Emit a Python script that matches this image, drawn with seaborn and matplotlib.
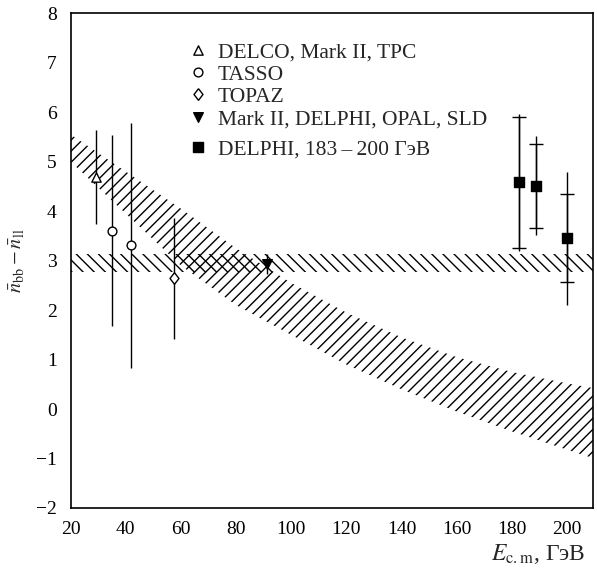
import numpy as np
import pandas as pd
import matplotlib
matplotlib.use("Agg")
import matplotlib.pyplot as plt
import seaborn as sns

# ---------------- data ----------------
band_x = [20, 40, 60, 80, 100, 120, 140, 160, 180, 200, 210]
band_upper = [5.55, 4.8, 4.05, 3.25, 2.55, 1.95, 1.45, 1.05, 0.75, 0.52, 0.42]
band_lower = [5.0, 3.95, 2.9, 2.1, 1.5, 0.9, 0.4, -0.05, -0.45, -0.82, -1.0]

flat_x = [20, 210]
flat_upper = [3.14, 3.14]
flat_lower = [2.78, 2.78]

delco_x = [29.2]
delco_y = [4.7]
delco_err = [0.95]

tasso_x = [34.9, 42.0]
tasso_y = [3.6, 3.31]
tasso_err = [1.93, 2.48]

topaz_x = [57.6]
topaz_y = [2.64]
topaz_err = [1.22]

z_x = [91.3]
z_y = [2.93]
z_err = [0.2]

delphi_x = [182.8, 188.9, 200.0]
delphi_y = [4.58, 4.51, 3.45]
delphi_stat = [1.33, 0.85, 0.89]
delphi_tot = [1.38, 1.0, 1.35]

labels = ["DELCO, Mark II, TPC", "TASSO", "TOPAZ",
          "Mark II, DELPHI, OPAL, SLD", "DELPHI, 183\u2009\u2013\u2009200 ГэВ"]

xticks = list(range(20, 201, 20))
yticks = list(range(-2, 9))

# ---------------- style ----------------
sns.set_theme(style="white")
plt.rcParams["font.family"] = ["Liberation Serif", "DejaVu Serif"]
plt.rcParams["mathtext.fontset"] = "stix"
plt.rcParams["hatch.linewidth"] = 1.0
plt.rcParams["axes.unicode_minus"] = True

fig = plt.figure(figsize=(5.97, 5.74), dpi=100)
ax = fig.add_axes([70.7 / 597, 1 - 508 / 574, (593.3 - 70.7) / 597, (508 - 13.3) / 574])

# hatched bands
ax.fill_between(flat_x, flat_lower, flat_upper, facecolor="none",
                edgecolor="black", hatch="\\\\\\", linewidth=0, zorder=1)
ax.fill_between(band_x, band_lower, band_upper, facecolor="none",
                edgecolor="black", hatch="///", linewidth=0, zorder=1)

# error bars
ebkw = dict(fmt="none", ecolor="black", elinewidth=1.0, zorder=2)
ax.errorbar(delco_x, delco_y, yerr=delco_err, capsize=0, **ebkw)
ax.errorbar(tasso_x, tasso_y, yerr=tasso_err, capsize=0, **ebkw)
ax.errorbar(topaz_x, topaz_y, yerr=topaz_err, capsize=0, **ebkw)
ax.errorbar(z_x, z_y, yerr=z_err, capsize=0, **ebkw)
ax.errorbar(delphi_x, delphi_y, yerr=delphi_tot, capsize=0, **ebkw)
ax.errorbar(delphi_x, delphi_y, yerr=delphi_stat, capsize=5, capthick=1.0, **ebkw)

# markers via seaborn
pts = pd.DataFrame({
    "x": delco_x + tasso_x + topaz_x + z_x + delphi_x,
    "y": delco_y + tasso_y + topaz_y + z_y + delphi_y,
    "set": [labels[0]] * len(delco_x) + [labels[1]] * len(tasso_x)
           + [labels[2]] * len(topaz_x) + [labels[3]] * len(z_x)
           + [labels[4]] * len(delphi_x),
})
diamond = [(0, 1), (0.77, 0), (0, -1), (-0.77, 0), (0, 1)]
styles = {
    labels[0]: dict(marker="^", fc="white", s=45),
    labels[1]: dict(marker="o", fc="white", s=40),
    labels[2]: dict(marker=diamond, fc="white", s=70),
    labels[3]: dict(marker="v", fc="black", s=48),
    labels[4]: dict(marker="s", fc="black", s=52),
}
for lab in labels:
    st = styles[lab]
    sns.scatterplot(data=pts[pts["set"] == lab], x="x", y="y", ax=ax,
                    marker=st["marker"], s=st["s"], color=st["fc"],
                    edgecolor="black", linewidth=1.0, zorder=3, label=lab)

handles, labs = ax.get_legend_handles_labels()
legkw = dict(loc="upper left", frameon=False, fontsize=15.5,
             handletextpad=0.42, labelspacing=0.10, borderpad=0.0,
             handlelength=1.0, scatteryoffsets=[0.5], borderaxespad=0.0)
leg1 = ax.legend(handles[:4], labs[:4], bbox_to_anchor=(0.223, 0.941), **legkw)
ax.add_artist(leg1)
leg2 = ax.legend(handles[4:], labs[4:], bbox_to_anchor=(0.223, 0.744), **legkw)

# axes
ax.set_xlim(20, 209.6)
ax.set_ylim(-2, 8)
ax.set_xticks(xticks)
ax.set_yticks(yticks)
ax.tick_params(direction="in", length=8, width=1.0, labelsize=14,
               top=False, right=False, colors="black")
ax.tick_params(axis="y", pad=10)
ax.tick_params(axis="x", pad=9)
for sp in ax.spines.values():
    sp.set_linewidth(1.2)
    sp.set_color("black")

ax.set_xlabel(r"$E_{\rm c{.}m}$, ГэВ", fontsize=17, loc="right")
ax.xaxis.set_label_coords(0.984, -0.069)
ax.set_ylabel(r"$\bar{n}_{\rm bb}-\bar{n}_{\rm ll}$", fontsize=14.5, labelpad=6)

fig.savefig("out.png", dpi=100)
